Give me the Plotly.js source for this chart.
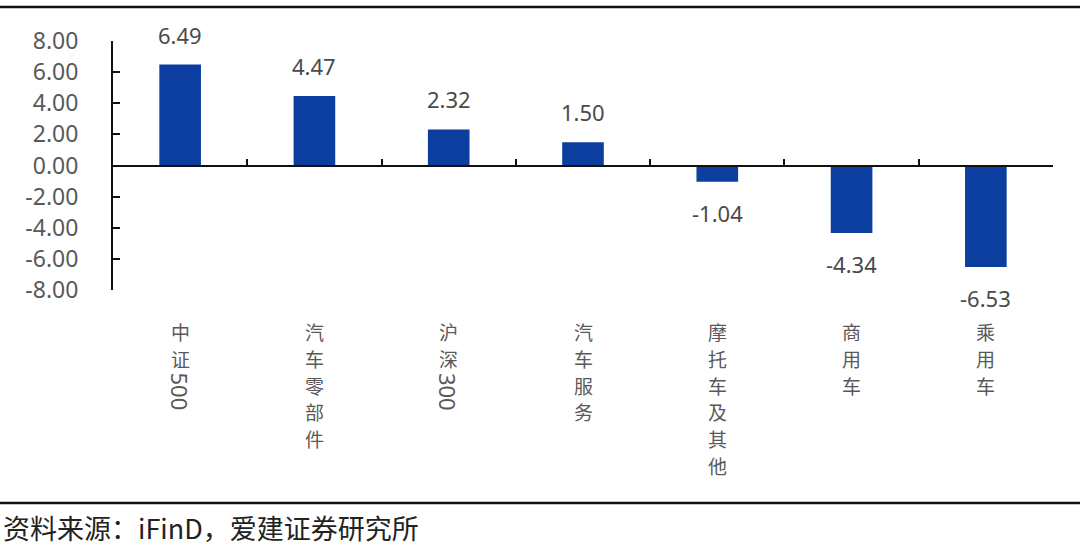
<!DOCTYPE html>
<html>
<head>
<meta charset="utf-8">
<script src="https://cdn.plot.ly/plotly-3.0.1.min.js"></script>
<style>html,body{margin:0;padding:0;background:#fff;}#chart{width:1080px;height:546px;}</style>
</head>
<body>
<div id="chart"></div>
<script>
const categories = ["中证500", "汽车零部件", "沪深300", "汽车服务", "摩托车及其他", "商用车", "乘用车"];
const values = [6.49, 4.47, 2.32, 1.50, -1.04, -4.34, -6.53];
const yTickVals = [8, 6, 4, 2, 0, -2, -4, -6, -8];
const yTickText = ["8.00", "6.00", "4.00", "2.00", "0.00", "-2.00", "-4.00", "-6.00", "-8.00"];
const sourceText = "资料来源：iFinD，爱建证券研究所";

const W = 1080, H = 546;
const mL = 113, mR = 27, mT = 41, mB = 256;
const plotW = W - mL - mR, plotH = H - mT - mB;
const px2x = p => (p - mL) / plotW;
const py2y = p => (H - mB - p) / plotH;

const idx = categories.map((c, i) => i);
const barColor = "#0C3EA0";
const labelColor = "#595959";
const fs = 19;
const step = 26.8;

const annotations = [];
// value labels
values.forEach((v, i) => {
  annotations.push({
    x: i, y: v, xref: "x", yref: "y",
    text: v.toFixed(2), showarrow: false,
    yanchor: v >= 0 ? "bottom" : "top",
    yshift: v >= 0 ? 13 : -14,
    font: {family: "Noto Sans, Noto Sans CJK SC, sans-serif", size: 22, color: "#4a4a4a"}
  });
});
// vertical category labels (one character per line, digits turned sideways)
const topY = py2y(316);
categories.forEach((c, i) => {
  const m = c.match(/^([^0-9]+)([0-9]*)$/);
  const cjk = m ? m[1] : c;
  const digits = m ? m[2] : "";
  const chars = Array.from(cjk);
  chars.forEach((ch, k) => {
    annotations.push({
      x: i, y: topY, xref: "x", yref: "paper",
      text: ch, showarrow: false,
      xanchor: "center", yanchor: "top",
      yshift: -k * step,
      font: {family: "Noto Sans CJK SC, sans-serif", size: fs, color: labelColor}
    });
  });
  if (digits) {
    annotations.push({
      x: i, y: topY, xref: "x", yref: "paper",
      text: digits, showarrow: false, textangle: 90,
      xanchor: "center", yanchor: "top",
      yshift: -(chars.length * step + 1),
      font: {family: "Noto Sans, sans-serif", size: 22, color: labelColor}
    });
  }
});
// source
annotations.push({
  x: px2x(1), y: py2y(527), xref: "paper", yref: "paper",
  text: sourceText, showarrow: false, xanchor: "left", yanchor: "middle",
  font: {family: "Noto Sans CJK SC, sans-serif", size: 27, color: "#222"}
});

const shapes = [
  {type: "line", xref: "paper", yref: "paper", x0: px2x(0), x1: px2x(W), y0: py2y(7), y1: py2y(7), line: {color: "#111", width: 2.5}},
  {type: "line", xref: "paper", yref: "paper", x0: px2x(0), x1: px2x(W), y0: py2y(503), y1: py2y(503), line: {color: "#111", width: 2.5}}
];

const data = [{
  type: "bar", x: idx, y: values,
  marker: {color: barColor},
  width: 0.31,
  hoverinfo: "none"
}];

const layout = {
  width: W, height: H,
  margin: {l: mL, r: mR, t: mT, b: mB, pad: 0},
  paper_bgcolor: "#fff", plot_bgcolor: "#fff",
  showlegend: false,
  xaxis: {
    type: "linear",
    range: [-0.5, categories.length - 0.5],
    anchor: "free", position: 0.5,
    showline: true, linecolor: "#111", linewidth: 2,
    tickmode: "array",
    tickvals: idx.map(i => i + 0.5),
    ticks: "inside", ticklen: 6, tickwidth: 2, tickcolor: "#111",
    showticklabels: false,
    showgrid: false, zeroline: false, fixedrange: true
  },
  yaxis: {
    range: [-8, 8],
    tickmode: "array", tickvals: yTickVals, ticktext: yTickText,
    showline: true, linecolor: "#111", linewidth: 2,
    ticks: "inside", ticklen: 7, tickwidth: 2, tickcolor: "#111",
    tickfont: {family: "Noto Sans, sans-serif", size: 23, color: labelColor},
    ticklabelstandoff: 28,
    showgrid: false, zeroline: false, fixedrange: true
  },
  annotations: annotations,
  shapes: shapes
};

Plotly.newPlot("chart", data, layout, {staticPlot: true, displayModeBar: false});
</script>
</body>
</html>
